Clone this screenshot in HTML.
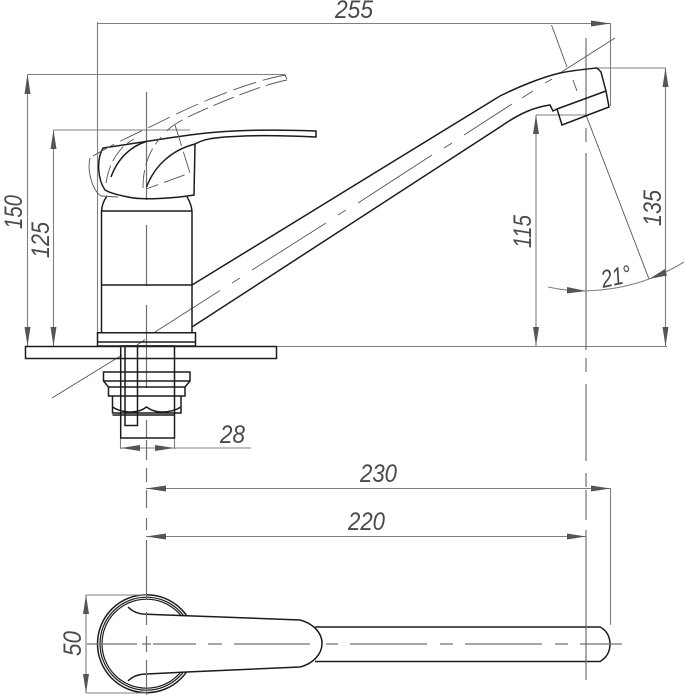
<!DOCTYPE html>
<html><head><meta charset="utf-8"><style>
html,body{margin:0;padding:0;background:#fff}
svg{display:block}
.t{fill:none;stroke:#808080;stroke-width:1.1}
.c{fill:none;stroke:#707070;stroke-width:1.2}
.s{fill:none;stroke:#1c1c1c;stroke-width:1.5}
.r{fill:none;stroke:#1c1c1c;stroke-width:1.2}
.d{fill:none;stroke:#555;stroke-width:.9}
.a{fill:#555;stroke:none}
text{font-family:"Liberation Sans",sans-serif;font-style:italic;font-size:25px;fill:#4a4a4a}
</style></head><body>
<svg width="685" height="695" viewBox="0 0 685 695" xmlns="http://www.w3.org/2000/svg">
<!-- bottom view body, below the centre lines -->
<circle class="s" cx="146.500" cy="643.700" r="49"/>
<circle class="r" cx="146.500" cy="643.700" r="46.500"/>
<circle class="r" cx="146.500" cy="643.700" r="44.500"/>
<path d="M146.700 614.300L186.700 615.700L300 620C312 623 322 632 322 643.500C322 655 312 664 300 667L186.700 672L146.700 674Z" fill="#fff"/>
<path class="s" d="M128 607C133 612 139 614.300 146.700 614.300L186.700 615.700L300 620C312 623 322 632 322 643.500C322 655 312 664 300 667L186.700 672L146.700 674C139 674 133 676 128 681"/>
<path class="s" d="M315 627H600C606 630 610 636 610 644C610 652 606 658 600 661.500H315"/>
<!-- dimension lines -->
<path class="t" d="M97.500 22V333M97 23.500H610.500V106M27.500 74.500H285M27.500 75V346M53.500 130H190M53.500 130V346M276 346.500H667M536 115H586M536 115V346M597 68H665.500M665.500 68V346"/>
<path class="t" d="M120.500 438V449M174.500 438V449M120.500 448H251"/>
<path class="t" d="M146 488.500H610.500M610.500 488V625M146 536.500H586"/>
<path class="t" d="M86 595H146M86 693H146M86 595V693"/>
<path class="t" d="M548 287Q566 291 586 291Q620 290 649 279Q668 272 684 262"/>
<path class="d" d="M551.500 25L567 67M573 80L577 91M586 115L649 279"/>
<!-- arrowheads -->
<g class="a">
<path d="M610.500 23.500L591 20.500V26.500Z"/>
<path d="M27.500 74L24.500 94H30.500Z"/>
<path d="M27.500 346L24.500 327H30.500Z"/>
<path d="M53.500 130L50.500 149H56.500Z"/>
<path d="M53.500 346L50.500 327H56.500Z"/>
<path d="M536 115L533 134H539Z"/>
<path d="M536 346L533 327H539Z"/>
<path d="M665.500 68L662.500 87H668.500Z"/>
<path d="M665.500 346L662.500 327H668.500Z"/>
<path d="M120.500 448L140 445V451Z"/>
<path d="M174.500 448L155 445V451Z"/>
<path d="M146 488.500L166 485.500V491.500Z"/>
<path d="M610.500 488.500L591 485.500V491.500Z"/>
<path d="M146 536.500L166 533.500V539.500Z"/>
<path d="M586 536.500L567 533.500V539.500Z"/>
<path d="M86 595L83 614H89Z"/>
<path d="M86 693L83 674H89Z"/>
<path d="M586 291L567 287V293.500Z"/>
<path d="M649 279L665 269L667 275.500Z"/>
</g>
<!-- centre lines -->
<path class="c" d="M146.500 92V200M146.500 225V286M146.500 305V388M146.500 420V438M146.500 440V460M146.500 468V482M146.500 490V508M146.500 518V530M146.500 540V600M146.500 612V625M146.500 636V652M146.500 660V695"/>
<path class="c" d="M586 38V115M586 128V142M586 153V350M586 358V372M586 384V461M586 473V487M586 490V520M586 530V680"/>
<path class="c" d="M87 644H137M142 644H151M153 644H196M208 644H222M234 644H310M326 644H338M350 644H427M440 644H453M465 644H542M555 644H568M580 644H622"/>
<path class="d" d="M52 398L122 355M135 346.500L145 339.500M155 332L220 290.500M232 283L240 278M252 270L326 223M338 215L346 210M358 203L432 155M444 148L452 143M464 135L512 104M522 98L533 91M545 83L552 79M560 73L615 38"/>
<!-- faucet side view -->
<path class="s" d="M101.500 211V332.500M192 211V332.500M101.500 211H192M101.500 285H192M101.500 211Q102 203 107 196M192 211Q191 203 187 197"/>
<path class="s" d="M97.500 332.700H195.500V346H97.500ZM97.500 342H195.500"/>
<path class="s" d="M25.500 346.500H276.500V358.500H25.500Z"/>
<path class="s" d="M120.700 346V438H174.500V346M125 346V425.500H137.500V346M120.700 346H174.500"/>
<path class="s" d="M103.500 372H190V381L185 387V396H108.500V387L103.500 381ZM103.500 381H190M108.500 387H185M112.500 396V413H181V396M112.500 407Q120 412 131 412Q140 412 146.500 407Q153 412 162 412Q173 412 181 407M112.500 415H174"/>
<!-- handle -->
<path class="s" d="M103 148L146 141.500C175 137 200 133 225 131.500C255 129.500 290 130 316 131V137C285 135.500 250 135 225 137C212 138 203 139.500 195 144L194 195C170 199 140 200 128 197C118 195 110 193 105 190C98 180 96 160 103 148Z"/>
<path class="s" d="M111 177C118 158 130 147 146 141.500M146.500 187C155 165 172 150 195 144"/>
<path class="d" stroke-dasharray="24 7" d="M286 75C260 79 215 95 168 118C145 130 115 142 90 158"/>
<path class="d" d="M90 158C87 170 92 190 101 196L118 197M285 75L287 79"/>
<path class="d" stroke-dasharray="22 6" d="M287 80C262 85 225 100 190 116C178 122 170 127 167 131"/>
<path class="d" stroke-dasharray="22 6" d="M175 125L190 173L146 189"/>
<path class="d" stroke-dasharray="18 5" d="M106 183C108 170 114 150 134 139M143 188C143 165 150 150 161 137"/>
<!-- spout -->
<path class="s" d="M192 285L500 96C520 86 543 77 560 73C575 70 587 69 597 68L601 72L606 91L609 107L562 125L557 109L606 91M192 327L500 127C520 113 535 107 550 105L553 111L557 109"/>
<!-- labels -->
<text x="335" y="18" textLength="38" lengthAdjust="spacingAndGlyphs">255</text>
<text transform="translate(22,229) rotate(-90)" textLength="34" lengthAdjust="spacingAndGlyphs">150</text>
<text transform="translate(49,258) rotate(-90)" textLength="36" lengthAdjust="spacingAndGlyphs">125</text>
<text transform="translate(531,248) rotate(-90)" textLength="33" lengthAdjust="spacingAndGlyphs">115</text>
<text transform="translate(661,226) rotate(-90)" textLength="36" lengthAdjust="spacingAndGlyphs">135</text>
<text x="220" y="443" textLength="25" lengthAdjust="spacingAndGlyphs">28</text>
<text x="360" y="482" textLength="37" lengthAdjust="spacingAndGlyphs">230</text>
<text x="348" y="530" textLength="37" lengthAdjust="spacingAndGlyphs">220</text>
<text transform="translate(81,656) rotate(-90)" textLength="25" lengthAdjust="spacingAndGlyphs">50</text>
<text transform="translate(603,288) rotate(-12)" textLength="30" lengthAdjust="spacingAndGlyphs">21°</text>
</svg>
</body></html>
